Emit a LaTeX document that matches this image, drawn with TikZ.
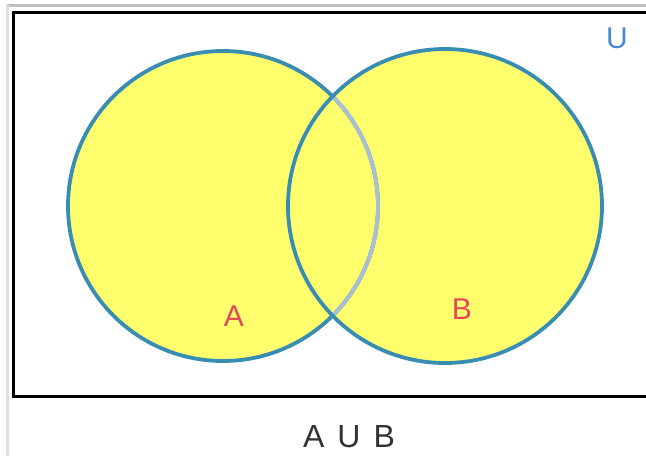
\documentclass[tikz,border=0pt]{standalone}
\usepackage{fontspec}
\setmainfont{Liberation Sans}
\definecolor{ring}{HTML}{3A8DB2}
\definecolor{ringlight}{HTML}{A9BFD6}
\definecolor{fillyel}{HTML}{FFFF6E}
\definecolor{lblred}{HTML}{E2475A}
\definecolor{lblblue}{HTML}{4A8AD0}
\definecolor{captxt}{HTML}{333333}
\tikzset{
  setlabel/.style={font=\fontsize{30}{30}\selectfont, inner sep=0pt, anchor=center},
  ringline/.style={draw=ring, line width=3.8pt},
}
\begin{document}
\begin{tikzpicture}[x=1pt,y=-1pt]
\useasboundingbox (0,0) rectangle (646,456);
\clip (0,0) rectangle (646,456);
\fill[white] (0,0) rectangle (646,456);
% faint outer frame
\draw[black!25, line width=3pt] (7,5) -- (660,5);
\draw[black!12, line width=3pt] (7,5) -- (7,456);
% universe rectangle
\draw[black, line width=3pt] (13,12) rectangle (660,396);
% circle centres
\coordinate (ca) at (223,206);
\coordinate (cb) at (445,206);
% fills
\fill[fillyel] (ca) circle (155);
\fill[fillyel] (cb) circle (157);
% outlines: A's arc inside B lighter
\draw[ringline] (ca) circle (155);
\begin{scope}
  \clip (cb) circle (157);
  \draw[draw=ringlight, line width=3.8pt] (ca) circle (155);
\end{scope}
\draw[ringline] (cb) circle (157);
% labels
\node[setlabel, text=lblred] (la) at (234,316) {A};
\node[setlabel, text=lblred] (lb) at (462,309) {B};
\node[setlabel, text=lblblue] (lu) at (617,38) {U};
\node[setlabel, text=captxt, font=\fontsize{32}{32}\selectfont] (cap) at (349,437) {A\hspace{13pt}U\hspace{13pt}B};
\end{tikzpicture}
\end{document}
